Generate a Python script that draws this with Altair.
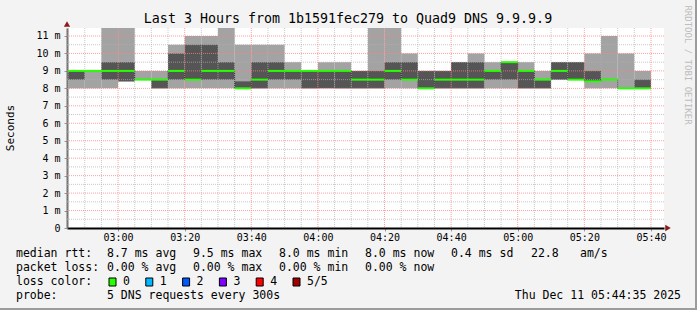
import altair as alt
import pandas as pd

# ---------------- data ----------------
bin_starts = ["02:45", "02:50", "02:55", "03:00", "03:05", "03:10", "03:15", "03:20",
              "03:25", "03:30", "03:35", "03:40", "03:45", "03:50", "03:55", "04:00",
              "04:05", "04:10", "04:15", "04:20", "04:25", "04:30", "04:35", "04:40",
              "04:45", "04:50", "04:55", "05:00", "05:05", "05:10", "05:15", "05:20",
              "05:25", "05:30", "05:35"]
rtt_min = [8.0, 8.0, 8.0, 8.4, 8.5, 8.0, 8.0, 8.0, 8.0, 8.0, 8.0, 8.0, 8.0, 8.0, 8.0, 8.0,
           8.0, 8.0, 8.0, 8.0, 8.0, 8.0, 8.0, 8.0, 8.0, 8.0, 8.0, 8.0, 8.0, 8.5, 8.5, 8.0,
           8.0, 8.0, 8.0]
rtt_p2 = [8.5, 9.0, 8.5, 8.4, 8.5, 8.0, 8.5, 8.5, 8.5, 8.5, 8.0, 8.0, 8.5, 8.5, 8.0, 8.0,
          8.0, 8.0, 8.0, 8.5, 8.5, 8.0, 8.0, 8.0, 8.0, 8.5, 8.5, 8.0, 8.0, 8.5, 8.5, 8.4,
          8.5, 8.0, 8.0]
rtt_median = [9.0, 9.0, 9.0, 9.0, 8.5, 8.5, 9.0, 8.5, 9.0, 9.0, 8.0, 8.5, 9.0, 9.0, 9.0, 9.0,
              9.0, 8.5, 8.5, 9.0, 8.5, 8.0, 8.5, 8.5, 8.5, 9.0, 9.5, 9.0, 8.5, 9.0, 8.5, 8.4,
              8.5, 8.0, 8.0]
rtt_p4 = [9.0, 9.0, 9.5, 9.5, 8.5, 8.5, 10.0, 10.5, 10.5, 9.5, 8.4, 9.5, 9.5, 9.0, 9.0, 9.0,
          9.0, 9.0, 9.0, 9.5, 9.5, 9.0, 9.0, 9.5, 9.5, 9.0, 9.5, 9.0, 8.5, 9.5, 9.5, 9.0,
          8.5, 8.0, 8.5]
rtt_max = [9.0, 9.0, 11.5, 11.5, 9.0, 9.0, 10.5, 11.0, 11.0, 11.5, 10.5, 10.5, 10.5, 9.5, 9.0, 9.5,
           9.5, 9.0, 11.5, 11.5, 10.0, 9.0, 9.0, 9.5, 10.0, 9.5, 9.5, 9.5, 9.0, 9.5, 9.5, 10.0,
           11.0, 10.0, 9.0]

y_ticks = [0, 1, 2, 3, 4, 5, 6, 7, 8, 9, 10, 11]
y_minor = [0.5, 1.5, 2.5, 3.5, 4.5, 5.5, 6.5, 7.5, 8.5, 9.5, 10.5]
x_major = ["03:00", "03:20", "03:40", "04:00", "04:20", "04:40", "05:00", "05:20", "05:40"]
x_minor = ["02:45", "02:50", "02:55", "03:05", "03:10", "03:15", "03:25", "03:30", "03:35",
           "03:45", "03:50", "03:55", "04:05", "04:10", "04:15", "04:25", "04:30", "04:35",
           "04:45", "04:50", "04:55", "05:05", "05:10", "05:15", "05:25", "05:30", "05:35"]

title_text = "Last 3 Hours from 1b1591fec279 to Quad9 DNS 9.9.9.9"
loss_labels = ["0", "1", "2", "3", "4", "5/5"]
loss_colors = ["#26ff00", "#00b8ff", "#0059ff", "#7e00ff", "#ff0000", "#a10000"]

DAY = "2025-12-11T"


def ts(hm):
    return DAY + hm + ":00"


df = pd.DataFrame({
    "start": [ts(s) for s in bin_starts],
    "lo": rtt_min, "p2": rtt_p2, "med": rtt_median, "p4": rtt_p4, "hi": rtt_max,
})
df["end"] = (pd.to_datetime(df["start"]) + pd.Timedelta(minutes=5)).dt.strftime("%Y-%m-%dT%H:%M:%S")
# step connectors between consecutive medians
steps = pd.DataFrame({"t": df["start"].iloc[1:].values,
                      "a": df["med"].iloc[:-1].values,
                      "b": df["med"].iloc[1:].values})
steps = steps[steps["a"] != steps["b"]]

# ---------------- geometry ----------------
W, H = 597, 200
L, T = 67, 28
MONO = "DejaVu Sans Mono"
LEG = 11.5

xscale = alt.Scale(domain=[alt.DateTime(year=2025, month=12, date=11, hours=2, minutes=44, seconds=40),
                           alt.DateTime(year=2025, month=12, date=11, hours=5, minutes=43, seconds=55)])
yscale = alt.Scale(domain=[0, 11.458], nice=False, zero=False)

x_axis = alt.Axis(values=[alt.DateTime(year=2025, month=12, date=11,
                                       hours=int(s[:2]), minutes=int(s[3:])) for s in x_major],
                  format="%H:%M", labelFont=MONO, labelFontSize=10, labelColor="#000",
                  tickSize=3, tickColor="#999", labelPadding=1, domainColor="#000",
                  domainWidth=2, grid=False, title=None, labelFlush=False)
y_axis = alt.Axis(values=y_ticks,
                  labelExpr="datum.value == 0 ? '0\u00a0\u00a0' : datum.value + ' m'",
                  labelFont=MONO, labelFontSize=10, labelColor="#000", tickSize=3,
                  tickColor="#999", labelPadding=4, domainColor="#6e6e6e", domainWidth=2,
                  grid=False, title=None)


def X(field):
    return alt.X(field, scale=xscale, axis=x_axis, title=None)


def Y(field):
    return alt.Y(field, scale=yscale, axis=y_axis, title=None)


base = alt.Chart(df)

smoke_light = base.mark_rect(color="#a3a3a3", clip=True).encode(
    x=X("start:T"), x2="end:T", y=Y("lo:Q"), y2="hi:Q")
smoke_dark = base.mark_rect(color="#555555", clip=True).encode(
    x=X("start:T"), x2="end:T", y=Y("p2:Q"), y2="p4:Q")
median_line = base.mark_rule(color="#26ff00", strokeWidth=2, clip=True).encode(
    x=X("start:T"), x2="end:T", y=Y("med:Q"))
connectors = alt.Chart(steps).mark_rule(color="#1a1a1a", strokeWidth=1, strokeDash=[1, 1],
                                        opacity=0.8).encode(
    x=X("t:T"), y=Y("a:Q"), y2="b:Q")


def vgrid(vals, color, op):
    d = pd.DataFrame({"t": [ts(v) for v in vals]})
    return alt.Chart(d).mark_rule(color=color, opacity=op, strokeDash=[1, 1], strokeWidth=1).encode(
        x=X("t:T"))


def hgrid(vals, color, op):
    d = pd.DataFrame({"v": vals})
    return alt.Chart(d).mark_rule(color=color, opacity=op, strokeDash=[1, 1], strokeWidth=1).encode(
        y=Y("v:Q"))


grid = [vgrid(x_minor, "#b0b0b0", 0.7), hgrid(y_minor, "#b0b0b0", 0.7),
        vgrid(x_major, "#ff8080", 0.75), hgrid(y_ticks[1:], "#ff8080", 0.75)]

one = alt.Data(values=[{"a": 1}])


def text_at(s, x, y, size=LEG, align="left", color="#000", font=MONO, angle=None):
    kw = dict(align=align, baseline="middle", font=font, fontSize=size, color=color)
    if angle is not None:
        kw["angle"] = angle
    return alt.Chart(one).mark_text(**kw).encode(
        x=alt.value(x - L), y=alt.value(y - T), text=alt.value(s))


texts = [
    text_at(title_text, 348, 19, size=13.3, align="center"),
    text_at("Seconds", 11, 128, size=11, align="center", angle=270),
    text_at("RRDTOOL / TOBI OETIKER", 688, 65, size=9, align="center", color="#bdbdbd", angle=90),
    # line 1
    text_at("median rtt:", 16, 254), text_at("8.7 ms avg", 107, 254),
    text_at("9.5 ms max", 193, 254), text_at("8.0 ms min", 279, 254),
    text_at("8.0 ms now", 365, 254), text_at("0.4 ms sd", 451, 254),
    text_at("22.8", 531, 254), text_at("am/s", 580, 254),
    # line 2
    text_at("packet loss:", 16, 268), text_at("0.00 % avg", 107, 268),
    text_at("0.00 % max", 193, 268), text_at("0.00 % min", 279, 268),
    text_at("0.00 % now", 365, 268),
    # line 3
    text_at("loss color:", 16, 282),
    # line 4
    text_at("probe:", 16, 296), text_at("5 DNS requests every 300s", 107, 296),
    text_at("Thu Dec 11 05:44:35 2025", 681, 296, align="right"),
]

# loss colour legend squares
leg = pd.DataFrame({"lab": loss_labels, "col": loss_colors, "i": list(range(len(loss_labels)))})
leg["x0"] = 109 - L + leg["i"] * 36.8
leg["x1"] = leg["x0"] + 7
leg["tx"] = leg["x0"] + 14
sq = alt.Chart(leg).mark_rect(stroke="#000", strokeWidth=1).encode(
    x=alt.X("x0:Q", scale=None), x2="x1:Q",
    y=alt.value(278 - T), y2=alt.value(286 - T),
    fill=alt.Fill("col:N", scale=None))
sq_txt = alt.Chart(leg).mark_text(align="left", baseline="middle", font=MONO, fontSize=LEG,
                                  color="#000").encode(
    x=alt.X("tx:Q", scale=None), y=alt.value(282 - T), text="lab:N")

# arrows at the ends of the axes
arrow_up = alt.Chart(one).mark_point(shape="triangle-up", filled=True, color="#8b1a1a",
                                     size=40, opacity=1).encode(
    x=alt.value(0), y=alt.value(24 - T))
arrow_right = alt.Chart(one).mark_point(shape="triangle-right", filled=True, color="#8b1a1a",
                                        size=40, opacity=1).encode(
    x=alt.value(668 - L), y=alt.value(H))

# frame (right and bottom shade)
frame_r = alt.Chart(one).mark_rule(color="#9c9c9c", strokeWidth=2).encode(
    x=alt.value(696 - L), y=alt.value(-T), y2=alt.value(310 - T))
frame_b = alt.Chart(one).mark_rule(color="#9c9c9c", strokeWidth=2).encode(
    x=alt.value(-L), x2=alt.value(697 - L), y=alt.value(309 - T))

chart = alt.layer(
    smoke_light, smoke_dark, *grid, connectors, median_line, arrow_up, arrow_right,
    *texts, sq, sq_txt, frame_r, frame_b
).properties(
    width=W, height=H,
    padding={"left": L, "top": T, "right": 697 - L - W, "bottom": 310 - T - H},
    autosize=alt.AutoSizeParams(type="none"),
    background="#f3f3f3",
).configure_view(fill="white", stroke=None)

chart.save("out.html", embed_options={"renderer": "svg", "actions": False})
